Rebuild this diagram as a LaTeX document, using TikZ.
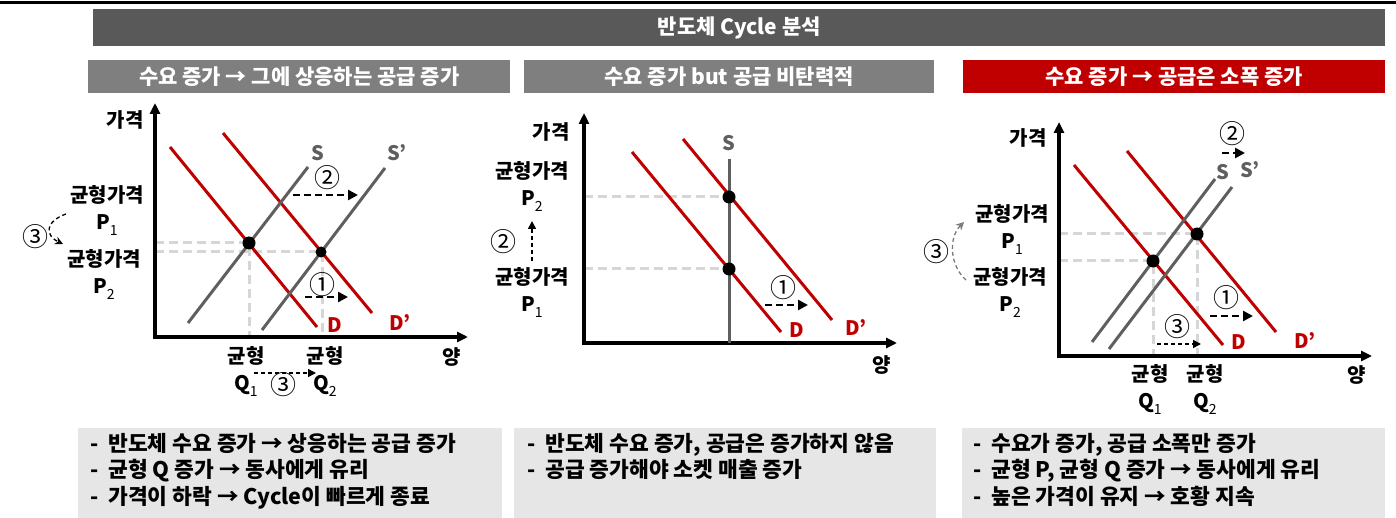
\documentclass[tikz,border=0pt]{standalone}
\usepackage{fontspec}
\setmainfont{Noto Sans CJK KR}
\usetikzlibrary{arrows.meta}
\definecolor{dgray}{HTML}{595959}
\definecolor{sgray}{HTML}{5F5F5F}
\definecolor{mgray}{HTML}{7F7F7F}
\definecolor{dred}{HTML}{C00000}
\definecolor{lgray}{HTML}{D6D6D6}
\definecolor{boxgray}{HTML}{E6E6E6}
\newcommand\sbx[1]{\raisebox{-0.3em}{\fontsize{14}{14}\selectfont\mdseries #1}}
\begin{document}
\begin{tikzpicture}[x=1pt,y=-1pt,
  font=\fontsize{20}{27}\selectfont\bfseries,
  axisline/.style={line width=3.5pt,{Triangle[length=11pt,width=10pt]}-{Triangle[length=11pt,width=10pt]}},
  dline/.style={dred,line width=3pt},
  sline/.style={sgray,line width=3pt},
  guide/.style={lgray,line width=3pt,dash pattern=on 9pt off 5pt},
  shiftarrow/.style={line width=2.8pt,dash pattern=on 7pt off 4pt,-{Triangle[length=10pt,width=10pt]}},
  thinarrow/.style={line width=1.6pt,dash pattern=on 4pt off 3pt,-{Triangle[length=8pt,width=8pt]}},
  curvearrow/.style={line width=1.3pt,dash pattern=on 4pt off 3pt,-{Stealth[length=8pt,width=8pt,open]}},
  dot/.style={circle,fill=black,inner sep=0pt,minimum size=13pt},
  lbl/.style={align=center,inner sep=0pt},
  circ/.style={align=center,inner sep=0pt,font=\fontsize{26}{26}\selectfont\mdseries},
  titlebox/.style={anchor=north west,fill=dgray,text=white,inner sep=0pt,minimum height=37pt,font=\fontsize{21}{25}\selectfont\bfseries},
  subbox/.style={anchor=north west,text=white,inner sep=0pt,minimum height=33pt,font=\fontsize{21}{25}\selectfont\bfseries},
  notebox/.style={anchor=north west,fill=boxgray,inner sep=0pt,minimum height=90pt},
  notetext/.style={anchor=north west,align=left,inner sep=0pt,font=\fontsize{21.5}{26.5}\selectfont\bfseries}
]
\useasboundingbox (0,0) rectangle (1396,518);
\fill[black] (0,1) rectangle (1396,4);

% title
\node[titlebox,minimum width=1292pt] (title) at (93,9) {반도체 Cycle 분석};
\node[subbox,fill=mgray,minimum width=422pt] (sub1) at (88,60) {수요 증가 → 그에 상응하는 공급 증가};
\node[subbox,fill=mgray,minimum width=410pt] (sub2) at (524,60) {수요 증가 but 공급 비탄력적};
\node[subbox,fill=dred,minimum width=422pt] (sub3) at (963,60) {수요 증가 → 공급은 소폭 증가};

% ---------- chart 1 ----------
\draw[guide] (155,243) -| (249,337);
\draw[guide] (155,252) -| (322,337);
\draw[axisline] (155,103) |- (468,337);
\draw[dline] (170,147) -- (317,327);
\draw[dline] (223,133) -- (372,313);
\draw[sline] (188,323) -- (308,167);
\draw[sline] (262,330) -- (385,168);
\node[dot] (e11) at (249,243) {};
\node[dot,minimum size=11pt] (e12) at (321,252) {};
\node[lbl] (y1) at (125,120) {가격};
\node[lbl] (x1) at (452,357) {양};
\node[lbl,text=sgray] (s1) at (318,153) {S};
\node[lbl,text=sgray] (s1p) at (397,153) {S’};
\node[lbl,text=dred] (d1) at (335,325) {D};
\node[lbl,text=dred] (d1p) at (400,323) {D’};
\node[circ] (c12) at (327,178) {②};
\coordinate (a12s) at (293,195); \coordinate (a12e) at (358,195);
\draw[shiftarrow] (a12s) -- (a12e);
\node[circ] (c11) at (322,285) {①};
\coordinate (a11s) at (305,297); \coordinate (a11e) at (348,297);
\draw[shiftarrow] (a11s) -- (a11e);
\node[lbl] (p11) at (107,210) {균형가격\\P\sbx{1}};
\node[lbl] (p12) at (104,274) {균형가격\\P\sbx{2}};
\node[circ] (c13) at (35,237) {③};
\coordinate (b13s) at (66,214); \coordinate (b13e) at (63,244);
\draw[curvearrow] (b13s) .. controls (46,221) and (44,235) .. (b13e);
\node[lbl] (q11) at (246,371) {균형\\Q\sbx{1}};
\node[lbl] (q12) at (325,371) {균형\\Q\sbx{2}};
\node[circ] (c13b) at (283,385) {③};
\coordinate (q13s) at (254,373); \coordinate (q13e) at (316,373);
\draw[thinarrow] (q13s) -- (q13e);

% ---------- chart 2 ----------
\draw[guide] (584,197) -- (729,197);
\draw[guide] (584,269) -- (729,269);
\draw[axisline] (584,113) |- (897,343);
\draw[sline] (729,159) -- (729,343);
\draw[dline] (632,152) -- (781,332);
\draw[dline] (683,139) -- (832,320);
\node[dot] (e21) at (729,269) {};
\node[dot] (e22) at (729,197) {};
\node[lbl] (y2) at (551,132) {가격};
\node[lbl] (x2) at (882,365) {양};
\node[lbl,text=sgray] (s2) at (729,143) {S};
\node[lbl,text=dred] (d2) at (797,330) {D};
\node[lbl,text=dred] (d2p) at (856,328) {D’};
\node[lbl] (p22) at (532,186) {균형가격\\P\sbx{2}};
\node[lbl] (p21) at (532,292) {균형가격\\P\sbx{1}};
\node[circ] (c22) at (503,242) {②};
\coordinate (a22s) at (532,261); \coordinate (a22e) at (532,221);
\draw[thinarrow] (a22s) -- (a22e);
\node[circ] (c21) at (783,288) {①};
\coordinate (a21s) at (765,305); \coordinate (a21e) at (808,305);
\draw[shiftarrow] (a21s) -- (a21e);

% ---------- chart 3 ----------
\draw[guide] (1059,234) -| (1197,356);
\draw[guide] (1059,261) -| (1153,356);
\draw[axisline] (1059,122) |- (1372,356);
\draw[dline] (1074,165) -- (1223,345);
\draw[dline] (1127,151) -- (1276,332);
\draw[sline] (1092,342) -- (1215,179);
\draw[sline] (1109,349) -- (1232,187);
\node[dot] (e31) at (1153,261) {};
\node[dot] (e32) at (1197,234) {};
\node[lbl] (y3) at (1028,138) {가격};
\node[lbl] (x3) at (1357,375) {양};
\node[lbl,text=sgray] (s3) at (1223,172) {S};
\node[lbl,text=sgray] (s3p) at (1250,170) {S’};
\node[lbl,text=dred] (d3) at (1239,342) {D};
\node[lbl,text=dred] (d3p) at (1305,341) {D’};
\node[circ] (c32) at (1232,134) {②};
\coordinate (a32s) at (1222,153); \coordinate (a32e) at (1245,153);
\draw[shiftarrow] (a32s) -- (a32e);
\node[circ] (c31) at (1226,298) {①};
\coordinate (a31s) at (1210,316); \coordinate (a31e) at (1253,316);
\draw[shiftarrow] (a31s) -- (a31e);
\node[circ] (c33b) at (1177,327) {③};
\coordinate (a33s) at (1157,344); \coordinate (a33e) at (1201,344);
\draw[thinarrow] (a33s) -- (a33e);
\node[lbl] (p31) at (1012,229) {균형가격\\P\sbx{1}};
\node[lbl] (p32) at (1010,292) {균형가격\\P\sbx{2}};
\node[circ] (c33) at (936,252) {③};
\coordinate (b33s) at (966,280); \coordinate (b33e) at (964,222);
\draw[curvearrow,dgray!80] (b33s) .. controls (950,266) and (948,238) .. (b33e);
\node[lbl] (q31) at (1150,389) {균형\\Q\sbx{1}};
\node[lbl] (q32) at (1205,389) {균형\\Q\sbx{2}};

% ---------- notes ----------
\node[notebox,minimum width=424pt] (n1) at (78,428) {};
\node[notebox,minimum width=422pt] (n2) at (514,428) {};
\node[notebox,minimum width=423pt] (n3) at (962,428) {};
\node[notetext] (t1) at (90,433) {-\ \ 반도체 수요 증가 → 상응하는 공급 증가\\-\ \ 균형 Q 증가 → 동사에게 유리\\-\ \ 가격이 하락 → Cycle이 빠르게 종료};
\node[notetext] (t2) at (527,433) {-\ \ 반도체 수요 증가, 공급은 증가하지 않음\\-\ \ 공급 증가해야 소켓 매출 증가};
\node[notetext] (t3) at (973,433) {-\ \ 수요가 증가, 공급 소폭만 증가\\-\ \ 균형 P, 균형 Q 증가 → 동사에게 유리\\-\ \ 높은 가격이 유지 → 호황 지속};
\end{tikzpicture}
\end{document}
